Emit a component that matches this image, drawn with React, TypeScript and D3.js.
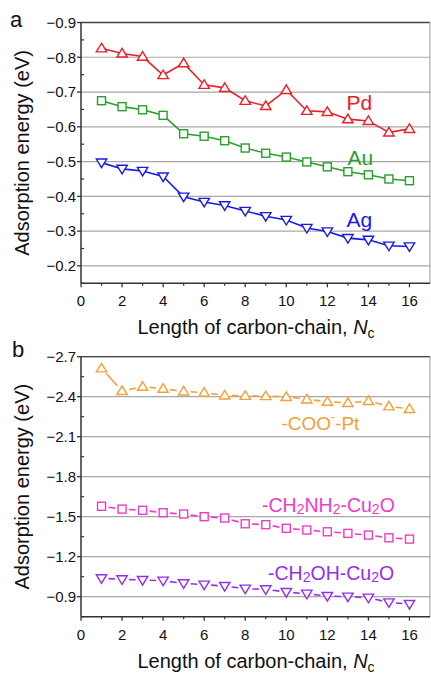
import React from "react";
import * as d3 from "d3";

const chainLength = [1, 2, 3, 4, 5, 6, 7, 8, 9, 10, 11, 12, 13, 14, 15, 16];

const pdValues = [-0.826, -0.811, -0.802, -0.749, -0.783, -0.721, -0.712, -0.675, -0.66, -0.706, -0.646, -0.643, -0.622, -0.617, -0.584, -0.594];
const auValues = [-0.675, -0.658, -0.649, -0.633, -0.58, -0.573, -0.56, -0.539, -0.524, -0.513, -0.499, -0.485, -0.471, -0.462, -0.45, -0.445];
const agValues = [-0.497, -0.479, -0.473, -0.457, -0.399, -0.384, -0.374, -0.358, -0.343, -0.332, -0.309, -0.299, -0.28, -0.275, -0.258, -0.256];

const cooPtValues = [-2.613, -2.443, -2.475, -2.46, -2.44, -2.43, -2.41, -2.407, -2.405, -2.398, -2.38, -2.363, -2.353, -2.368, -2.328, -2.308];
const ch2nh2Values = [-1.578, -1.557, -1.548, -1.53, -1.52, -1.5, -1.49, -1.447, -1.44, -1.413, -1.4, -1.387, -1.375, -1.362, -1.342, -1.332];
const ch2ohValues = [-1.038, -1.03, -1.025, -1.02, -1.0, -0.99, -0.98, -0.96, -0.955, -0.935, -0.922, -0.905, -0.9, -0.892, -0.857, -0.845];

const xMajorTicks = [0, 2, 4, 6, 8, 10, 12, 14, 16];
const xMinorTicks = [1, 3, 5, 7, 9, 11, 13, 15];
const yTicksA = [-0.9, -0.8, -0.7, -0.6, -0.5, -0.4, -0.3, -0.2];
const yMinorA = [-0.85, -0.75, -0.65, -0.55, -0.45, -0.35, -0.25, -0.15];
const yTicksB = [-2.7, -2.4, -2.1, -1.8, -1.5, -1.2, -0.9];
const yMinorB = [-2.55, -2.25, -1.95, -1.65, -1.35, -1.05, -0.75];

const FONT = "'Liberation Sans', Arial, Helvetica, sans-serif";

type Series = { values: number[]; color: string; marker: "up" | "down" | "square" };

const L = 81;
const R = 430;

function Marker({ x, y, type, color }: { x: number; y: number; type: string; color: string }) {
  if (type === "square") {
    return <rect x={x - 4} y={y - 4} width={8} height={8} fill="white" stroke={color} strokeWidth={1.4} />;
  }
  const pts =
    type === "up"
      ? `${x},${y - 5} ${x + 5.2},${y + 3.6} ${x - 5.2},${y + 3.6}`
      : `${x},${y + 5} ${x + 5.2},${y - 3.6} ${x - 5.2},${y - 3.6}`;
  return <polygon points={pts} fill="white" stroke={color} strokeWidth={1.4} />;
}

function fmt(v: number, digits: number) {
  return "\u2212" + Math.abs(v).toFixed(digits);
}

function Panel({
  top,
  bottom,
  domain,
  ticks,
  minor,
  digits,
  series,
  gapped,
}: {
  top: number;
  bottom: number;
  domain: [number, number];
  ticks: number[];
  minor: number[];
  digits: number;
  series: Series[];
  gapped: boolean;
}) {
  const x = d3.scaleLinear().domain([0, 17]).range([L, R]);
  const y = d3.scaleLinear().domain(domain).range([top, bottom]);
  const line = d3
    .line<number>()
    .x((_, i) => x(chainLength[i]))
    .y((d) => y(d));
  return (
    <g>
      {ticks.map((t) => (
        <line key={"g" + t} x1={L} x2={R} y1={y(t)} y2={y(t)} stroke="#a8a8a8" strokeWidth={1.2} />
      ))}
      <line x1={L} x2={R} y1={top} y2={top} stroke="#444" strokeWidth={1.3} />
      <line x1={R} x2={R} y1={top} y2={bottom} stroke="#999" strokeWidth={1} />
      {series.map((s, si) => {
        if (!gapped) {
          return <path key={"l" + si} d={line(s.values) || ""} fill="none" stroke={s.color} strokeWidth={1.6} />;
        }
        const segs = [];
        for (let i = 0; i < s.values.length - 1; i++) {
          const x1 = x(chainLength[i]);
          const y1 = y(s.values[i]);
          const x2 = x(chainLength[i + 1]);
          const y2 = y(s.values[i + 1]);
          const len = Math.hypot(x2 - x1, y2 - y1);
          const g = 7;
          const ux = (x2 - x1) / len;
          const uy = (y2 - y1) / len;
          segs.push(
            <line
              key={"s" + si + "-" + i}
              x1={x1 + ux * g}
              y1={y1 + uy * g}
              x2={x2 - ux * g}
              y2={y2 - uy * g}
              stroke={s.color}
              strokeWidth={1.6}
            />
          );
        }
        return <g key={"l" + si}>{segs}</g>;
      })}
      {series.map((s, si) =>
        s.values.map((v, i) => (
          <Marker key={"m" + si + "-" + i} x={x(chainLength[i])} y={y(v)} type={s.marker} color={s.color} />
        ))
      )}
      <line x1={L} x2={L} y1={top} y2={bottom} stroke="#333" strokeWidth={1.5} />
      <line x1={L} x2={R} y1={bottom} y2={bottom} stroke="#333" strokeWidth={1.5} />
      {ticks.map((t) => (
        <g key={"yt" + t}>
          <line x1={L - 4} x2={L} y1={y(t)} y2={y(t)} stroke="#333" strokeWidth={1.3} />
          <text x={76} y={y(t) + 5.3} textAnchor="end" fontSize={15} fontFamily={FONT} fill="#111">
            {fmt(t, digits)}
          </text>
        </g>
      ))}
      {minor.map((t) => (
        <line key={"ym" + t} x1={L} x2={L + 3} y1={y(t)} y2={y(t)} stroke="#333" strokeWidth={1.2} />
      ))}
      {xMajorTicks.map((t) => (
        <g key={"xt" + t}>
          <line x1={x(t)} x2={x(t)} y1={bottom} y2={bottom + 4} stroke="#333" strokeWidth={1.3} />
          <text x={x(t)} y={bottom + 23} textAnchor="middle" fontSize={15} fontFamily={FONT} fill="#111">
            {t}
          </text>
        </g>
      ))}
      {xMinorTicks.map((t) => (
        <line key={"xm" + t} x1={x(t)} x2={x(t)} y1={bottom} y2={bottom + 2.5} stroke="#333" strokeWidth={1.2} />
      ))}
      <text
        transform={`translate(29, ${(top + bottom) / 2}) rotate(-90)`}
        textAnchor="middle"
        fontSize={20}
        fontFamily={FONT}
        fill="#111"
      >
        Adsorption energy (eV)
      </text>
      <text x={256} y={bottom + 51} textAnchor="middle" fontSize={20} fontFamily={FONT} fill="#111">
        Length of carbon-chain, <tspan fontStyle="italic">N</tspan>
        <tspan fontSize={14} dy={4}>c</tspan>
      </text>
    </g>
  );
}

export default function App() {
  const seriesA: Series[] = [
    { values: pdValues, color: "#e8202a", marker: "up" },
    { values: auValues, color: "#27a02a", marker: "square" },
    { values: agValues, color: "#1a1ae6", marker: "down" },
  ];
  const seriesB: Series[] = [
    { values: cooPtValues, color: "#f5a035", marker: "up" },
    { values: ch2nh2Values, color: "#f03cc4", marker: "square" },
    { values: ch2ohValues, color: "#9030ee", marker: "down" },
  ];
  return (
    <svg width={431} height={674} style={{ position: "absolute", left: 0, top: 0, background: "white" }}>
      <rect width={431} height={674} fill="white" />
      <text x={10} y={27} fontSize={22} fontFamily={FONT} fill="#111">a</text>
      <text x={12} y={356.5} fontSize={22} fontFamily={FONT} fill="#111">b</text>
      <Panel top={22.5} bottom={283.3} domain={[-0.9, -0.15]} ticks={yTicksA} minor={yMinorA} digits={1} series={seriesA} gapped={false} />
      <Panel top={356.7} bottom={616.7} domain={[-2.7, -0.75]} ticks={yTicksB} minor={yMinorB} digits={1} series={seriesB} gapped={true} />
      <text x={346.5} y={110} fontSize={21} fontFamily={FONT} fill="#e8202a">Pd</text>
      <text x={347.5} y={165} fontSize={21} fontFamily={FONT} fill="#27a02a">Au</text>
      <text x={346.5} y={226.5} fontSize={21} fontFamily={FONT} fill="#1a1ae6">Ag</text>
      <text x={281.5} y={430} fontSize={19} fontFamily={FONT} fill="#f5a035">
        -COO<tspan fontSize={12} dy={-9}>-</tspan>
        <tspan dy={9}>-Pt</tspan>
      </text>
      <text x={262} y={511.5} fontSize={19.5} fontFamily={FONT} fill="#f03cc4">
        -CH<tspan fontSize={14} dy={2}>2</tspan>
        <tspan dy={-2}>NH</tspan>
        <tspan fontSize={14} dy={2}>2</tspan>
        <tspan dy={-2}>-Cu</tspan>
        <tspan fontSize={14} dy={2}>2</tspan>
        <tspan dy={-2}>O</tspan>
      </text>
      <text x={268} y={580} fontSize={19.5} fontFamily={FONT} fill="#9030ee">
        -CH<tspan fontSize={14} dy={2}>2</tspan>
        <tspan dy={-2}>OH-Cu</tspan>
        <tspan fontSize={14} dy={2}>2</tspan>
        <tspan dy={-2}>O</tspan>
      </text>
    </svg>
  );
}
